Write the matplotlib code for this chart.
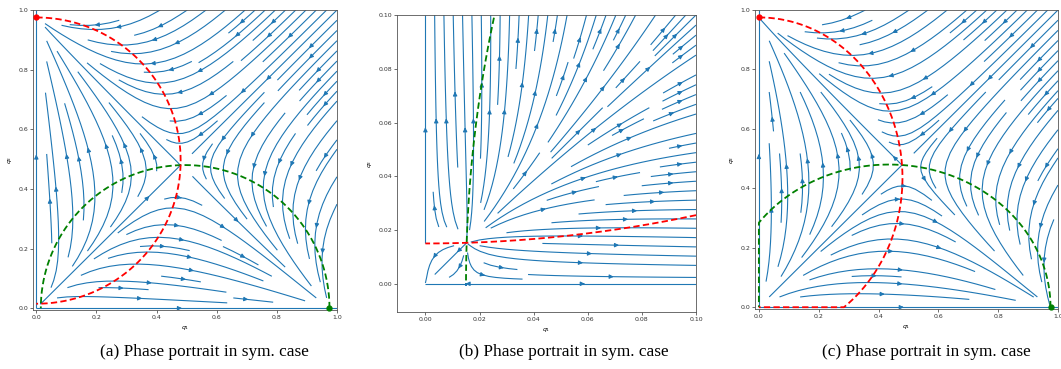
import numpy as np
import matplotlib.pyplot as plt

# model parameters read off the nullclines of each panel
# q1-nullcline (green): q2 = k * sqrt((q1 - a) * (b - q1)), red is the mirror image
a_vals = [0.015, 0.015, -0.105]
b_vals = [0.975, 0.975, 0.975]
k_vals = [1.0, 1.0, 0.889]
grid_max = [1.0, 0.1, 1.0]
x_limits = [(-0.011, 1.0), (-0.0105, 0.1), (-0.013, 1.0)]
y_limits = [(-0.006, 1.0), (-0.0105, 0.1), (-0.006, 1.0)]
tick_vals = [np.arange(0, 1.01, 0.2), np.arange(0, 0.101, 0.02), np.arange(0, 1.01, 0.2)]
tick_fmt = ['{:.1f}', '{:.2f}', '{:.1f}']
stable_pts = [(0.0, 0.975), (0.975, 0.0)]   # red dot, green dot
show_dots = [True, False, True]
captions = ['(a) Phase portrait in sym. case', '(b) Phase portrait in sym. case',
            '(c) Phase portrait in sym. case']
caption_x = [204, 564, 926]

# axes boxes in pixels (left, top, right, bottom)
boxes = [(33, 10, 337, 310), (397, 15, 696, 312), (755, 10, 1058, 309)]
W, H = 1061, 369

fig = plt.figure(figsize=(W / 100, H / 100), dpi=100)

for i in range(3):
    l, t, r, btm = boxes[i]
    ax = fig.add_axes([l / W, 1 - btm / H, (r - l) / W, (btm - t) / H])
    a, b, k = a_vals[i], b_vals[i], k_vals[i]

    q = np.linspace(0, grid_max[i], 200)
    Q1, Q2 = np.meshgrid(q, q)
    U = Q1 * (k**2 * (Q1 - a) * (b - Q1) - Q2**2)
    V = Q2 * (k**2 * (Q2 - a) * (b - Q2) - Q1**2)
    ax.streamplot(Q1, Q2, U, V, color='#1f77b4', linewidth=0.8, arrowsize=0.6, density=1)

    # nullclines
    c, R = (a + b) / 2, (b - a) / 2
    th = np.linspace(0, np.pi, 2000)
    n1 = np.maximum(c + R * np.cos(th), 0)
    n2 = k * R * np.sin(th)
    ax.plot(n1, n2, color='green', ls='--', lw=1.3, dashes=(3.5, 1.8))
    ax.plot(n2, n1, color='red', ls='--', lw=1.3, dashes=(3.5, 1.8))

    if show_dots[i]:
        ax.plot(*stable_pts[0], 'o', color='red', ms=3.5, clip_on=False, zorder=5)
        ax.plot(*stable_pts[1], 'o', color='green', ms=3.5, clip_on=False, zorder=5)

    ax.set_xlim(*x_limits[i])
    ax.set_ylim(*y_limits[i])
    ax.set_xticks(tick_vals[i])
    ax.set_yticks(tick_vals[i])
    ax.set_xticklabels([tick_fmt[i].format(v) for v in tick_vals[i]])
    ax.set_yticklabels([tick_fmt[i].format(v) for v in tick_vals[i]])
    ax.tick_params(labelsize=4.5, length=2, width=0.5, pad=1.5, colors='#333333')
    for s in ax.spines.values():
        s.set_linewidth(0.6)
        s.set_color('#555555')
    ax.set_xlabel('$q_1$', fontsize=4.5, labelpad=3)
    ax.set_ylabel('$q_2$', fontsize=4.5, labelpad=3)

    fig.text(caption_x[i] / W, 1 - 352 / H, captions[i], ha='center', va='center',
             fontsize=12.4, family='Liberation Serif')

plt.savefig('out.png', dpi=100)
